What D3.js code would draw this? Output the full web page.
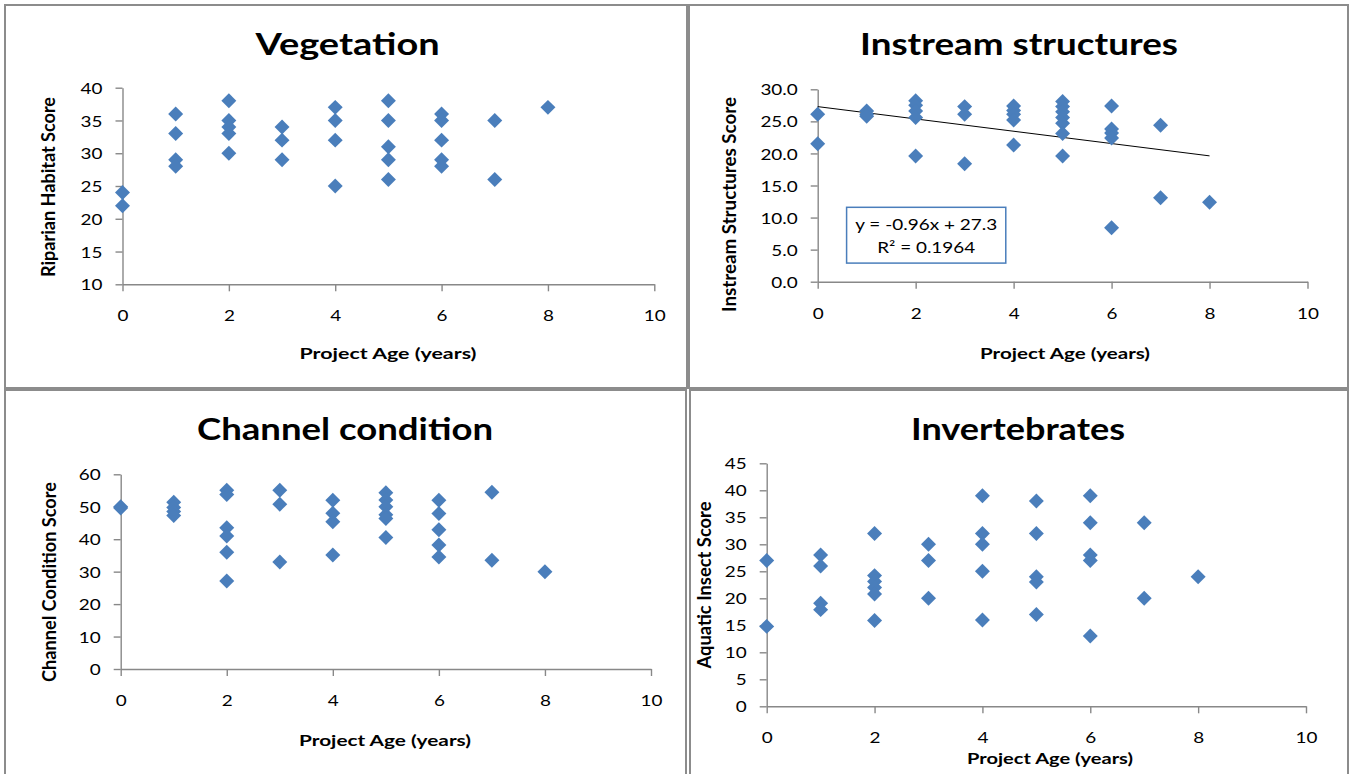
<!DOCTYPE html>
<html>
<head>
<meta charset="utf-8">
<script src="https://cdn.jsdelivr.net/npm/d3@7"></script>
<style>
  html, body { margin: 0; padding: 0; background: #ffffff; }
  svg { display: block; }
  text { font-family: Lato, "Open Sans", sans-serif; fill: #000; }
</style>
</head>
<body>
<svg id="chart" width="1350" height="774"></svg>
<script>
// ---------------- DATA ----------------
const ageTicks = [0, 2, 4, 6, 8, 10];

const vegTitle = "Vegetation";
const vegYLabel = "Riparian Habitat Score";
const vegAge   = [0,0, 1,1,1,1, 2,2,2,2,2, 3,3,3, 4,4,4,4, 5,5,5,5,5, 6,6,6,6,6, 7,7, 8];
const vegScore = [24,22, 36,33,29,28, 38,35,34,33,30, 34,32,29, 37,35,32,25, 38,35,31,29,26, 36,35,32,29,28, 35,26, 37];
const vegYTicks = [10, 15, 20, 25, 30, 35, 40];

const instreamTitle = "Instream structures";
const instreamYLabel = "Instream Structures Score";
const instreamAge   = [0,0, 1,1,1, 2,2,2,2,2, 3,3,3, 4,4,4,4,4, 5,5,5,5,5,5,5, 6,6,6,6,6, 7,7, 8];
const instreamScore = [26.1,21.5, 26.6,26.1,25.8, 28.2,27.5,26.6,25.6,19.6, 27.3,26.1,18.4,
                       27.4,26.7,26.1,25.2,21.3, 28.1,27.3,26.5,25.6,24.7,23.1,19.6,
                       27.4,23.8,23.2,22.4,8.4, 24.4,13.1, 12.4];
const instreamYTicks = [0, 5, 10, 15, 20, 25, 30];
const trendSlope = -0.96;
const trendIntercept = 27.3;
const trendR2 = 0.1964;
const trendLabels = ["y = -0.96x + 27.3", "R\u00B2 = 0.1964"];

const channelTitle = "Channel condition";
const channelYLabel = "Channel Condition Score";
const channelAge   = [0,0, 1,1,1,1, 2,2,2,2,2,2, 3,3,3, 4,4,4,4, 5,5,5,5,5,5, 6,6,6,6,6, 7,7, 8];
const channelScore = [50,49.6, 51.4,49.8,48.5,47.3, 55.1,53.8,43.5,41,36,27.1, 55.1,50.8,33,
                      52,48,45.4,35.1, 54.3,52.1,50,47.5,46.4,40.5, 52,47.9,42.9,38.2,34.5, 54.5,33.5, 30];
const channelYTicks = [0, 10, 20, 30, 40, 50, 60];

const invertTitle = "Invertebrates";
const invertYLabel = "Aquatic Insect Score";
const invertAge   = [0,0, 1,1,1,1, 2,2,2,2,2,2, 3,3,3, 4,4,4,4,4, 5,5,5,5,5, 6,6,6,6,6, 7,7, 8];
const invertScore = [27,14.8, 28,26,19.1,17.9, 32,24.2,23.1,22,20.8,15.9, 30,27,20,
                     39,32,30,25,16, 38,32,24,23,17, 39,34,28,27,13, 34,20, 24];
const invertYTicks = [0, 5, 10, 15, 20, 25, 30, 35, 40, 45];

const xAxisLabel = "Project Age (years)";

// ---------------- LAYOUT ----------------
const panels = [
  { title: vegTitle, ages: vegAge, scores: vegScore, yTicks: vegYTicks, yFmt: d3.format("d"), yLabel: vegYLabel,
    frame: [5, 5, 687, 388], xr: [122.5, 654.3], yr: [284.3, 87.7],
    titlePos: [347.6, 55, 184], xLabPos: [388, 359, 177], yLabPos: [54.5, 187, 180] },
  { title: instreamTitle, ages: instreamAge, scores: instreamScore, yTicks: instreamYTicks, yFmt: d3.format(".1f"), yLabel: instreamYLabel,
    frame: [689, 5, 1348, 388], xr: [817.7, 1307.5], yr: [281.7, 89.3],
    titlePos: [1019, 55, 318], xLabPos: [1065, 359, 170], yLabPos: [736, 204.5, 215], trend: true },
  { title: channelTitle, ages: channelAge, scores: channelScore, yTicks: channelYTicks, yFmt: d3.format("d"), yLabel: channelYLabel,
    frame: [5, 390, 686, 780], xr: [120.7, 651], yr: [669, 474.3],
    titlePos: [345, 440, 296], xLabPos: [385, 746, 172], yLabPos: [56, 582, 200] },
  { title: invertTitle, ages: invertAge, scores: invertScore, yTicks: invertYTicks, yFmt: d3.format("d"), yLabel: invertYLabel,
    frame: [690, 390, 1348, 780], xr: [766.7, 1306], yr: [706.3, 463.3],
    titlePos: [1018, 440, 214], xLabPos: [1050, 763.5, 166], yLabPos: [711, 585, 167] }
];

const markerColor = "#4a7ebb";
const axisColor = "#888888";
const sx = 1.22; // horizontal stretch of the original picture's text

const svg = d3.select("#chart");

panels.forEach(p => {
  const g = svg.append("g");

  // chart area border
  g.append("rect")
    .attr("x", p.frame[0]).attr("y", p.frame[1])
    .attr("width", p.frame[2] - p.frame[0]).attr("height", p.frame[3] - p.frame[1])
    .attr("fill", "#fff").attr("stroke", "#8c8c8c").attr("stroke-width", 2);

  const x = d3.scaleLinear().domain([0, 10]).range(p.xr);
  const yDom = d3.extent(p.yTicks);
  const y = d3.scaleLinear().domain(yDom).range(p.yr);

  // title
  g.append("text")
    .attr("x", p.titlePos[0]).attr("y", p.titlePos[1])
    .attr("text-anchor", "middle")
    .attr("font-size", 31).attr("font-weight", 700)
    .attr("textLength", p.titlePos[2]).attr("lengthAdjust", "spacingAndGlyphs")
    .text(p.title);

  // y axis
  const yAxis = g.append("g")
    .attr("transform", `translate(${p.xr[0]},0)`)
    .call(d3.axisLeft(y).tickValues(p.yTicks).tickFormat(p.yFmt).tickSize(7).tickSizeOuter(0));
  // x axis
  const xAxis = g.append("g")
    .attr("transform", `translate(0,${p.yr[0]})`)
    .call(d3.axisBottom(x).tickValues(ageTicks).tickFormat(d3.format("d")).tickSize(7).tickSizeOuter(0));

  [yAxis, xAxis].forEach(a => {
    a.select(".domain").attr("stroke", axisColor).attr("stroke-width", 1.4);
    a.selectAll(".tick line").attr("stroke", axisColor).attr("stroke-width", 1.4);
    a.selectAll(".tick text")
      .attr("font-family", "Lato, 'Open Sans', sans-serif")
      .attr("font-size", 15.5).attr("fill", "#222")
      .attr("transform", `scale(${sx},1)`);
  });
  yAxis.selectAll(".tick text").attr("x", -20 / sx).attr("dy", "0.36em");
  xAxis.selectAll(".tick text").attr("y", 31.5).attr("dy", "0.36em");

  // axis titles
  g.append("text")
    .attr("x", p.xLabPos[0]).attr("y", p.xLabPos[1])
    .attr("text-anchor", "middle")
    .attr("font-size", 16).attr("font-weight", 700)
    .attr("textLength", p.xLabPos[2]).attr("lengthAdjust", "spacingAndGlyphs")
    .text(xAxisLabel);

  g.append("text")
    .attr("transform", `translate(${p.yLabPos[0]},${p.yLabPos[1]}) scale(${sx},1) rotate(-90)`)
    .attr("text-anchor", "middle")
    .attr("font-size", 16).attr("font-weight", 700)
    .attr("textLength", p.yLabPos[2]).attr("lengthAdjust", "spacingAndGlyphs")
    .text(p.yLabel);

  // trend line (drawn under markers)
  if (p.trend) {
    const tx = d3.extent(p.ages);
    g.append("line")
      .attr("x1", x(tx[0])).attr("y1", y(trendIntercept + trendSlope * tx[0]))
      .attr("x2", x(tx[1])).attr("y2", y(trendIntercept + trendSlope * tx[1]))
      .attr("stroke", "#000").attr("stroke-width", 1);
  }

  // markers
  const sym = d3.symbol().type(d3.symbolSquare).size(112);
  g.append("g").selectAll("path")
    .data(p.ages.map((a, i) => [a, p.scores[i]]))
    .join("path")
    .attr("d", sym)
    .attr("transform", d => `translate(${x(d[0])},${y(d[1])}) rotate(45)`)
    .attr("fill", markerColor);

  // equation box
  if (p.trend) {
    const bx = x(0.59), by = y(11.6), bw = x(3.84) - x(0.59), bh = y(2.9) - y(11.6);
    g.append("rect")
      .attr("x", bx).attr("y", by).attr("width", bw).attr("height", bh)
      .attr("fill", "#fff").attr("stroke", markerColor).attr("stroke-width", 1.5);
    const cx = bx + bw / 2;
    const lens = [142, 98];
    trendLabels.forEach((t, i) => {
      g.append("text")
        .attr("x", cx).attr("y", by + 23 + i * 22.5)
        .attr("text-anchor", "middle")
        .attr("font-size", 15)
        .attr("textLength", lens[i]).attr("lengthAdjust", "spacingAndGlyphs")
        .attr("fill", "#222")
        .text(t);
    });
  }
});
</script>
</body>
</html>
